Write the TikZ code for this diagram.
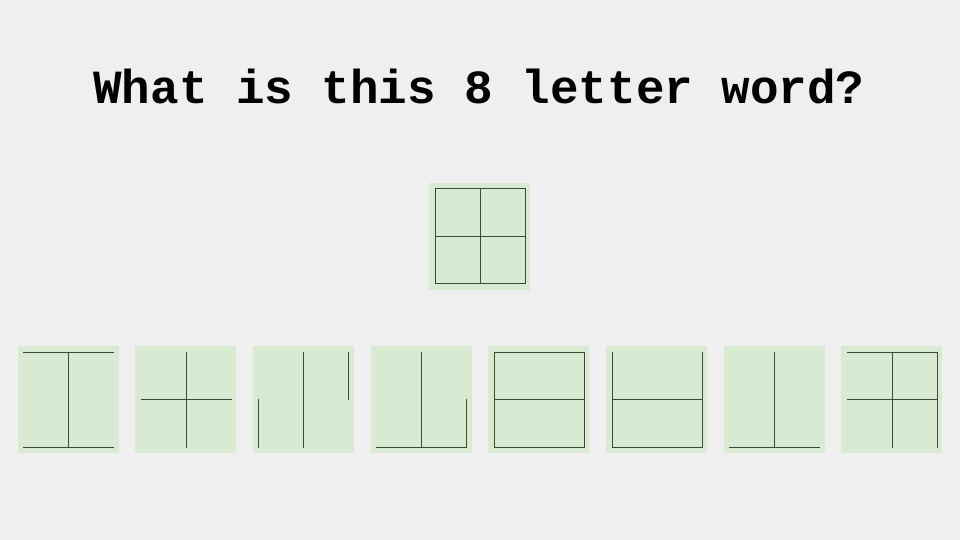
\documentclass[tikz,border=0pt]{standalone}
\usepackage{fontspec}
\setmonofont{Liberation Mono}
\usepackage{tikz}
\definecolor{sfondo}{HTML}{EFEFEF}
\definecolor{verdino}{HTML}{D9EAD3}
\definecolor{tratto}{HTML}{3A4A3A}
\newcommand{\tessera}[2]{ % #1 sarà la coordinata x di partenza, #2 i tratti da disegnare
  \fill[verdino] (#1,0) rectangle (101+#1,107);
  \foreach \a/\b/\c/\d in {#2} {
    \draw[tratto, line width=1pt, line cap=rect] (6+45*\a+#1, 6+47.5*\b) -- (6+45*\c+#1, 6+47.5*\d);
  }
}

\begin{document}
\begin{tikzpicture}[x=1pt, y=1pt]
    \fill[sfondo] (0,0) rectangle (960,540);
    \useasboundingbox (0,0) rectangle (960,540);

    \node[anchor=base, inner sep=0pt, font=\ttfamily\bfseries\fontsize{47.6}{58}\selectfont] (titolo) at (479,436) {What is this 8 letter word?};

    \begin{scope}[yshift=250pt]
        \tessera{429}{0/0/2/0, 2/0/2/2, 2/2/0/2, 0/2/0/0, 0/1/2/1, 1/0/1/2}
    \end{scope}

    \begin{scope}[yshift=86.7pt]
        \tessera{17.5}{0/2/2/2, 0/0/2/0, 1/0/1/2}
        \tessera{135.2}{0/1/2/1, 1/0/1/2}
        \tessera{252.9}{0/0/0/1, 1/0/1/2, 2/1/2/2}
        \tessera{370.6}{1/0/1/2, 2/0/2/1, 0/0/2/0}
        \tessera{488.3}{0/0/2/0, 2/0/2/2, 2/2/0/2, 0/2/0/0, 0/1/2/1}
        \tessera{606}{0/0/0/2, 2/0/2/2, 0/1/2/1, 0/0/2/0}
        \tessera{723.7}{1/0/1/2, 0/0/2/0}
        \tessera{841.4}{0/2/2/2, 0/1/2/1, 1/0/1/2, 2/0/2/2}
    \end{scope}
\end{tikzpicture}
\end{document}
